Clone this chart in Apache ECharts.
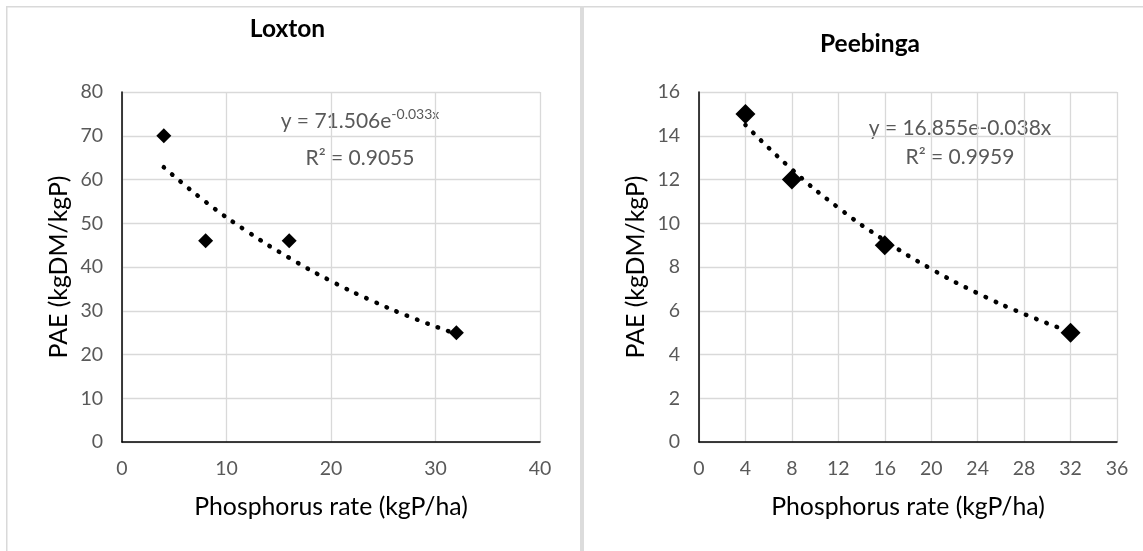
<!DOCTYPE html>
<html>
<head>
<meta charset="utf-8">
<script src="https://cdn.jsdelivr.net/npm/echarts@6/dist/echarts.min.js"></script>
<style>
html,body{margin:0;padding:0;background:#fff;}
#c{width:1143px;height:551px;}
</style>
</head>
<body>
<div id="c"></div>
<script>
// Loxton
const loxtonX = [4, 8, 16, 32];
const loxtonY = [70, 46, 46, 25];
const loxtonTrendX = [4, 8, 12, 16, 20, 24, 28, 32];
const loxtonTrendY = [62.8, 54.9, 48.1, 42.1, 36.8, 32.2, 28.2, 24.7];
const loxtonXTicks = [0, 10, 20, 30, 40];
const loxtonYTicks = [0, 10, 20, 30, 40, 50, 60, 70, 80];
// Peebinga
const peeX = [4, 8, 16, 32];
const peeY = [15, 12, 9, 5];
const peeTrendX = [4, 8, 12, 16, 20, 24, 28, 32];
const peeTrendY = [14.49, 12.46, 10.71, 9.21, 7.91, 6.80, 5.85, 5.03];
const peeXTicks = [0, 4, 8, 12, 16, 20, 24, 28, 32, 36];
const peeYTicks = [0, 2, 4, 6, 8, 10, 12, 14, 16];

const titles = ['Loxton', 'Peebinga'];
const xTitle = 'Phosphorus rate (kgP/ha)';
const yTitle = 'PAE (kgDM/kgP)';

const FONT = 'Lato';
const pairs = (xs, ys) => xs.map((x, i) => [x, ys[i]]);

function xAxis(idx, ticks) {
  return {
    type: 'value', gridIndex: idx,
    min: ticks[0], max: ticks[ticks.length - 1], interval: ticks[1] - ticks[0],
    name: xTitle, nameLocation: 'middle', nameGap: 53,
    nameTextStyle: {fontFamily: FONT, fontSize: 24.8, color: '#000'},
    axisLine: {show: true, onZero: false, lineStyle: {color: '#000', width: 1.5}},
    axisTick: {show: false},
    axisLabel: {fontFamily: FONT, fontSize: 19.5, color: '#595959', margin: 17},
    splitLine: {show: true, lineStyle: {color: '#d9d9d9', width: 1.3}}
  };
}
function yAxis(idx, ticks) {
  return {
    type: 'value', gridIndex: idx,
    min: ticks[0], max: ticks[ticks.length - 1], interval: ticks[1] - ticks[0],
    name: yTitle, nameLocation: 'middle', nameGap: 50,
    nameTextStyle: {fontFamily: FONT, fontSize: 24.8, color: '#000'},
    axisLine: {show: true, onZero: false, lineStyle: {color: '#000', width: 1.5}},
    axisTick: {show: false},
    axisLabel: {fontFamily: FONT, fontSize: 19.5, color: '#595959', margin: 19},
    splitLine: {show: true, lineStyle: {color: '#d9d9d9', width: 1.3}}
  };
}
const dotted = {color: '#000', width: 4.5, type: [0.5, 10.5], cap: 'round'};

const chart = echarts.init(document.getElementById('c'), null, {renderer: 'canvas'});
chart.setOption({
  backgroundColor: '#fff',
  animation: false,
  grid: [
    {left: 122, top: 92, width: 418, height: 350},
    {left: 699, top: 92, width: 418, height: 350}
  ],
  xAxis: [xAxis(0, loxtonXTicks), xAxis(1, peeXTicks)],
  yAxis: [yAxis(0, loxtonYTicks), yAxis(1, peeYTicks)],
  series: [
    {type: 'line', xAxisIndex: 0, yAxisIndex: 0, data: pairs(loxtonTrendX, loxtonTrendY),
     smooth: true, showSymbol: false, lineStyle: dotted, z: 2},
    {type: 'scatter', xAxisIndex: 0, yAxisIndex: 0, data: pairs(loxtonX, loxtonY),
     symbol: 'diamond', symbolSize: 15, itemStyle: {color: '#000', opacity: 1}, z: 3},
    {type: 'line', xAxisIndex: 1, yAxisIndex: 1, data: pairs(peeTrendX, peeTrendY),
     smooth: true, showSymbol: false, lineStyle: dotted, z: 2},
    {type: 'scatter', xAxisIndex: 1, yAxisIndex: 1, data: pairs(peeX, peeY),
     symbol: 'diamond', symbolSize: 20, itemStyle: {color: '#000', opacity: 1}, z: 3}
  ],
  graphic: [
    {type: 'rect', shape: {x: 6, y: 6, width: 1137, height: 1.5}, style: {fill: '#d9d9d9'}, silent: true},
    {type: 'rect', shape: {x: 6, y: 6, width: 1.5, height: 545}, style: {fill: '#d9d9d9'}, silent: true},
    {type: 'rect', shape: {x: 580, y: 6, width: 4, height: 545}, style: {fill: '#dcdcdc'}, silent: true},
    {type: 'text', x: 287.5, y: 29, style: {text: titles[0], fontFamily: FONT, fontSize: 24.5, fontWeight: 'bold', fill: '#000', align: 'center', verticalAlign: 'middle'}},
    {type: 'text', x: 870, y: 44, style: {text: titles[1], fontFamily: FONT, fontSize: 24.5, fontWeight: 'bold', fill: '#000', align: 'center', verticalAlign: 'middle'}},
    {type: 'text', x: 360, y: 121, style: {
      text: '{a|y = 71.506e}{s|-0.033x}', align: 'center', verticalAlign: 'middle',
      rich: {a: {fontFamily: FONT, fontSize: 21, fill: '#595959', color: '#595959'},
             s: {fontFamily: FONT, fontSize: 14, fill: '#595959', color: '#595959', padding: [0, 0, 14, 0]}}}},
    {type: 'text', x: 360, y: 158, style: {text: 'R² = 0.9055', fontFamily: FONT, fontSize: 21, fill: '#595959', align: 'center', verticalAlign: 'middle'}},
    {type: 'text', x: 960, y: 128, style: {text: 'y = 16.855e-0.038x', fontFamily: FONT, fontSize: 21, fill: '#595959', align: 'center', verticalAlign: 'middle'}},
    {type: 'text', x: 960, y: 157, style: {text: 'R² = 0.9959', fontFamily: FONT, fontSize: 21, fill: '#595959', align: 'center', verticalAlign: 'middle'}}
  ]
});
</script>
</body>
</html>
